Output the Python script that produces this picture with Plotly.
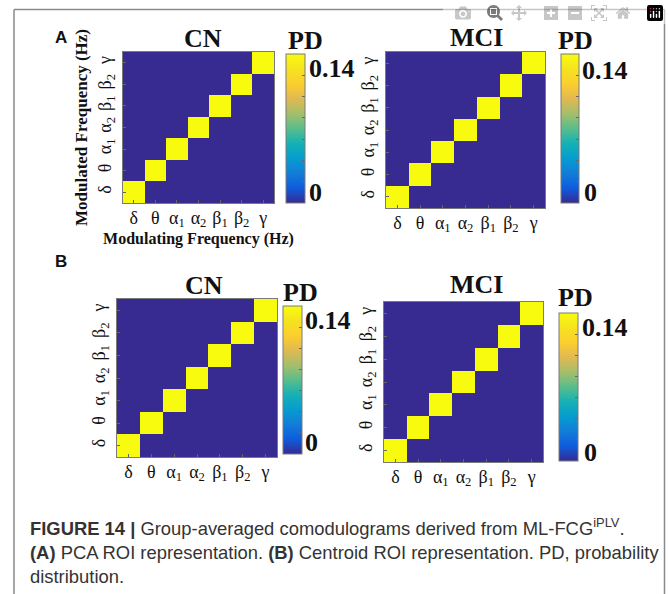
import plotly.graph_objects as go

W, H = 669, 594

# ---- data ----
bands = ["δ", "θ", "α<sub>1</sub>", "α<sub>2</sub>", "β<sub>1</sub>", "β<sub>2</sub>", "γ"]
pd_max = 0.14
# diagonal probability (PD) values per band, off-diagonal PD = 0
diag_A_CN = [0.14, 0.14, 0.14, 0.14, 0.14, 0.14, 0.14]
diag_A_MCI = [0.14, 0.14, 0.14, 0.14, 0.14, 0.14, 0.14]
diag_B_CN = [0.14, 0.14, 0.14, 0.14, 0.14, 0.14, 0.14]
diag_B_MCI = [0.14, 0.14, 0.14, 0.14, 0.14, 0.14, 0.14]
offdiag = 0.0
groups = ["CN", "MCI", "CN", "MCI"]
cb_ticks = [0, 0.14]

parula = [
    [0.0, "rgb(55,42,145)"], [0.1, "rgb(15,92,221)"], [0.2, "rgb(18,125,216)"],
    [0.3, "rgb(7,156,207)"], [0.4, "rgb(21,177,180)"], [0.5, "rgb(89,189,140)"],
    [0.6, "rgb(165,190,107)"], [0.7, "rgb(225,185,82)"], [0.8, "rgb(252,206,46)"],
    [0.9, "rgb(245,227,30)"], [1.0, "rgb(249,251,14)"],
]


def px(x):
    return x / W


def py(y):
    return 1 - y / H


def matrix(diag):
    n = len(diag)
    return [[diag[i] if i == j else offdiag for j in range(n)] for i in range(n)]


# layout boxes (page pixels): heatmap [x0,x1,y0,y1], colorbar [x0,x1,y0,y1]
panels = [
    dict(diag=diag_A_CN, hm=(123, 274, 52, 203), cb=(286, 305, 54, 203),
         title=(203, 38), pd=(305, 40), t14=(307, 68), t0=(307, 192)),
    dict(diag=diag_A_MCI, hm=(386, 545, 52, 208), cb=(561, 579, 54, 203),
         title=(476, 37), pd=(575, 41), t14=(580, 70), t0=(582, 192)),
    dict(diag=diag_B_CN, hm=(117, 277, 299, 457), cb=(283, 302, 306, 454),
         title=(204, 286), pd=(300, 292), t14=(303, 320), t0=(303, 442)),
    dict(diag=diag_B_MCI, hm=(384, 543, 302, 462), cb=(559, 578, 313, 461),
         title=(477, 284), pd=(575, 297), t14=(580, 327), t0=(582, 452)),
]

fig = go.Figure()
annotations = []
serif = "Liberation Serif, Times New Roman, serif"

for k, p in enumerate(panels):
    sfx = "" if k == 0 else str(k + 1)
    x0, x1, y0, y1 = p["hm"]
    c0, c1, cy0, cy1 = p["cb"]
    fig.add_trace(go.Heatmap(
        z=matrix(p["diag"]), x=list(range(len(bands))), y=list(range(len(bands))),
        zmin=0, zmax=pd_max, colorscale=parula,
        xaxis="x" + sfx, yaxis="y" + sfx, hoverinfo="skip",
        colorbar=dict(
            x=px(c0), xanchor="left", xpad=0,
            y=py((cy0 + cy1) / 2), yanchor="middle", ypad=0,
            len=cy1 - cy0, lenmode="pixels", thickness=c1 - c0, thicknessmode="pixels",
            outlinewidth=1, outlinecolor="#7a7a7a",
            tickmode="array", tickvals=[0.02, 0.04, 0.06, 0.08, 0.10, 0.12],
            ticks="inside", ticklen=3, tickcolor="#666", showticklabels=False,
        ),
    ))
    ax = dict(
        domain=[px(x0), px(x1)], anchor="y" + sfx, automargin=False,
        tickmode="array", tickvals=list(range(len(bands))), ticktext=bands,
        ticks="inside", ticklen=3, tickcolor="#666",
        showline=True, mirror=True, linecolor="#7a7a7a", linewidth=1,
        showgrid=False, zeroline=False, range=[-0.5, 6.5],
        tickfont=dict(family=serif, size=18, color="#111"),
        ticklabelstandoff=-2,
    )
    ay = dict(
        domain=[py(y1), py(y0)], anchor="x" + sfx, automargin=False,
        tickmode="array", tickvals=list(range(len(bands))), ticktext=bands,
        ticks="inside", ticklen=3, tickcolor="#666", tickangle=-90,
        showline=True, mirror=True, linecolor="#7a7a7a", linewidth=1,
        showgrid=False, zeroline=False, range=[-0.5, 6.5],
        tickfont=dict(family=serif, size=18, color="#111"),
        ticklabelstandoff=4,
    )
    if k == 0:
        ax["title"] = dict(text="<b>Modulating Frequency (Hz)</b>", standoff=3,
                           font=dict(family=serif, size=16, color="#111"))
        ay["title"] = dict(text="<b>Modulated Frequency (Hz)</b>", standoff=2,
                           font=dict(family=serif, size=17, color="#111"))
    fig.update_layout(**{"xaxis" + sfx: ax, "yaxis" + sfx: ay})

    tx, ty = p["title"]
    annotations.append(dict(x=px(tx), y=py(ty), text="<b>" + groups[k] + "</b>",
                            font=dict(family=serif, size=26, color="#111")))
    qx, qy = p["pd"]
    annotations.append(dict(x=px(qx), y=py(qy), text="<b>PD</b>",
                            font=dict(family=serif, size=26, color="#111")))
    ax14, ay14 = p["t14"]
    annotations.append(dict(x=px(ax14), y=py(ay14), xanchor="left",
                            text="<b>%g</b>" % cb_ticks[1],
                            font=dict(family=serif, size=26, color="#111")))
    ax0, ay0 = p["t0"]
    annotations.append(dict(x=px(ax0), y=py(ay0), xanchor="left",
                            text="<b>%g</b>" % cb_ticks[0],
                            font=dict(family=serif, size=26, color="#111")))

for lab, (lx, ly) in [("A", (61, 37)), ("B", (61, 261))]:
    annotations.append(dict(x=px(lx), y=py(ly), text="<b>" + lab + "</b>",
                            font=dict(family="Liberation Sans, Arial, sans-serif", size=17, color="#111")))

caption = ("<b>FIGURE 14 |</b> Group-averaged comodulograms derived from ML-FCG<sup>iPLV</sup>.<br>"
           "<b>(A)</b> PCA ROI representation. <b>(B)</b> Centroid ROI representation. PD, probability<br>"
           "distribution.")
annotations.append(dict(x=px(28), y=py(513), xanchor="left", yanchor="top", align="left",
                        text=caption,
                        font=dict(family="Liberation Sans, Arial, sans-serif",
                                  size=18.4, color="#333")))

for a in annotations:
    a.setdefault("xref", "paper")
    a.setdefault("yref", "paper")
    a.setdefault("showarrow", False)
    a.setdefault("xanchor", "center")
    a.setdefault("yanchor", "middle")

# open frame (left, top, right edges) around the figure panel
bl, bt, br, bb = px(14), py(9.5), px(664.5), py(610)
frame_style = dict(color="#8a8a8a", width=1.5)
frame = [
    dict(type="line", xref="paper", yref="paper", x0=bl, x1=bl, y0=bb, y1=bt, line=frame_style, layer="above"),
    dict(type="line", xref="paper", yref="paper", x0=bl, x1=br, y0=bt, y1=bt, line=frame_style, layer="above"),
    dict(type="line", xref="paper", yref="paper", x0=br, x1=br, y0=bb, y1=bt, line=frame_style, layer="above"),
]

fig.update_layout(
    width=W, height=H, margin=dict(l=0, r=0, t=0, b=0, autoexpand=False),
    paper_bgcolor="white", plot_bgcolor="white",
    annotations=annotations, showlegend=False, shapes=frame,
)

# remove the default page margin so the figure fills the 669x594 window exactly
fig.write_html(
    "out.html",
    post_script="document.body.style.margin='0';document.body.style.overflow='hidden';"
                "document.documentElement.style.overflow='hidden';",
)
